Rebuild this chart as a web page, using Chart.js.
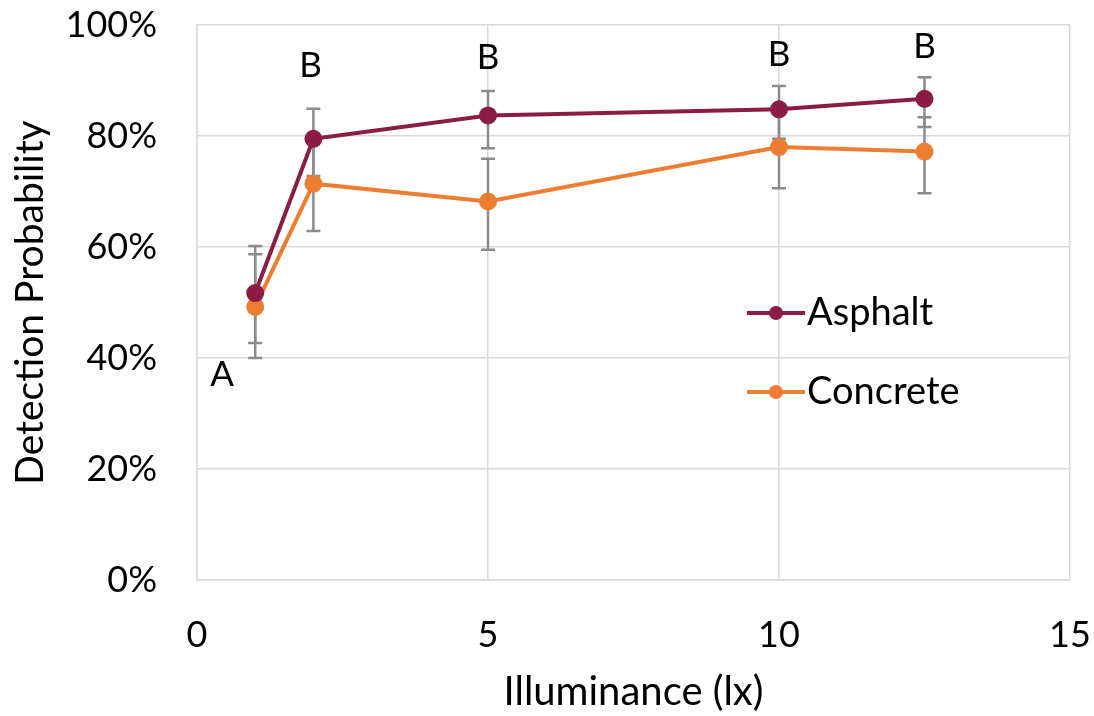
<!DOCTYPE html>
<html>
<head>
<meta charset="utf-8">
<script src="https://cdn.jsdelivr.net/npm/chart.js@4"></script>
<style>
html,body{margin:0;padding:0;background:#fff;}
#wrap{width:1094px;height:716px;}
</style>
</head>
<body>
<div id="wrap"><canvas id="myChart" width="1094" height="716"></canvas></div>
<script>
var lux = [1, 2, 5, 10, 12.5];
var asphalt = [0.517, 0.795, 0.837, 0.848, 0.867];
var asphaltHi = [0.602, 0.849, 0.881, 0.890, 0.906];
var asphaltLo = [0.427, 0.728, 0.778, 0.795, 0.816];
var concrete = [0.492, 0.714, 0.682, 0.780, 0.772];
var concreteHi = [0.587, 0.798, 0.759, 0.849, 0.834];
var concreteLo = [0.400, 0.629, 0.595, 0.706, 0.697];
var letters = ['A', 'B', 'B', 'B', 'B'];
var letterX = [0.43, 1.95, 5, 10, 12.5];
var letterY = [0.369, 0.927, 0.941, 0.946, 0.960];

var fontName = 'Lato, "Open Sans", sans-serif';

function pts(xs, ys){
	var out = [];
	for(var i=0;i<xs.length;i++){
		out.push({x:xs[i], y:ys[i]});
	}
	return out;
}

var extras = {
	id: 'extras',
	beforeDatasetsDraw: function(chart){
		var ctx = chart.ctx;
		var xs = chart.scales.x, ys = chart.scales.y;
		var sets = [[asphaltHi, asphaltLo], [concreteHi, concreteLo]];
		ctx.save();
		ctx.strokeStyle = '#8c8c8c';
		ctx.lineWidth = 2.5;
		for(var s in sets){
			for(var i=0;i<lux.length;i++){
				var px = xs.getPixelForValue(lux[i]);
				var top = ys.getPixelForValue(sets[s][0][i]);
				var bot = ys.getPixelForValue(sets[s][1][i]);
				ctx.beginPath();
				ctx.moveTo(px, top); ctx.lineTo(px, bot);
				ctx.moveTo(px-7, top); ctx.lineTo(px+7, top);
				ctx.moveTo(px-7, bot); ctx.lineTo(px+7, bot);
				ctx.stroke();
			}
		}
		ctx.restore();
	},
	afterDatasetsDraw: function(chart){
		var ctx = chart.ctx;
		var xs = chart.scales.x, ys = chart.scales.y;
		ctx.save();
		ctx.fillStyle = '#000';
		ctx.font = '35px ' + fontName;
		ctx.textAlign = 'center';
		ctx.textBaseline = 'middle';
		for(var i=0;i<letters.length;i++){
			ctx.fillText(letters[i], xs.getPixelForValue(letterX[i]), ys.getPixelForValue(letterY[i]));
		}
		// legend inside plot
		var ca = chart.chartArea;
		var lx = ca.left + 550, rows = [ca.top + 288, ca.top + 367];
		chart.data.datasets.forEach(function(ds, k){
			var y = rows[k];
			ctx.strokeStyle = ds.borderColor;
			ctx.lineWidth = 4;
			ctx.beginPath();
			ctx.moveTo(lx, y); ctx.lineTo(lx+58, y);
			ctx.stroke();
			ctx.fillStyle = ds.borderColor;
			ctx.beginPath();
			ctx.arc(lx+29, y, 7, 0, Math.PI*2);
			ctx.fill();
			ctx.fillStyle = '#000';
			ctx.textAlign = 'left';
			ctx.font = '38px ' + fontName;
			ctx.fillText(ds.label, lx+60, y);
		});
		ctx.restore();
	}
};

var ctx = document.getElementById('myChart').getContext('2d');
var chart = new Chart(ctx, {
	type: 'line',
	data: {
		datasets: [{
			label: 'Asphalt',
			data: pts(lux, asphalt),
			borderColor: '#8b1c45',
			backgroundColor: '#8b1c45',
			borderWidth: 4,
			pointRadius: 7,
			pointHoverRadius: 7
		},{
			label: 'Concrete',
			data: pts(lux, concrete),
			borderColor: '#ec7d31',
			backgroundColor: '#ec7d31',
			borderWidth: 4,
			pointRadius: 7,
			pointHoverRadius: 7
		}]
	},
	options: {
		responsive: false,
		animation: false,
		layout: { padding: { top: 25, right: 24, left: 0, bottom: 0 } },
		plugins: {
			legend: { display: false },
			tooltip: { enabled: false }
		},
		scales: {
			x: {
				type: 'linear',
				min: 0, max: 15,
				ticks: { stepSize: 5, color: '#000', padding: 0, font: { size: 36, family: fontName } },
				grid: { color: '#d9d9d9', lineWidth: 1.5, tickLength: 34, tickColor: 'rgba(0,0,0,0)' },
				border: { color: '#d9d9d9', width: 1.5 },
				title: { display: true, text: 'Illuminance (lx)', color: '#000', font: { size: 40, family: fontName }, padding: { top: 0, bottom: 0 } },
				afterFit: function(s){ s.height = 136; }
			},
			y: {
				min: 0, max: 1,
				ticks: { stepSize: 0.2, color: '#000', padding: 0, font: { size: 36, family: fontName },
					callback: function(v){ return Math.round(v*100) + '%'; } },
				grid: { color: '#d9d9d9', lineWidth: 1.5, tickLength: 40, tickColor: 'rgba(0,0,0,0)' },
				border: { color: '#d9d9d9', width: 1.5 },
				title: { display: true, text: 'Detection Probability', color: '#000', font: { size: 39, family: fontName }, padding: { top: 7, bottom: 0 } },
				afterFit: function(s){ s.width = 197; }
			}
		}
	},
	plugins: [extras]
});
</script>
</body>
</html>
